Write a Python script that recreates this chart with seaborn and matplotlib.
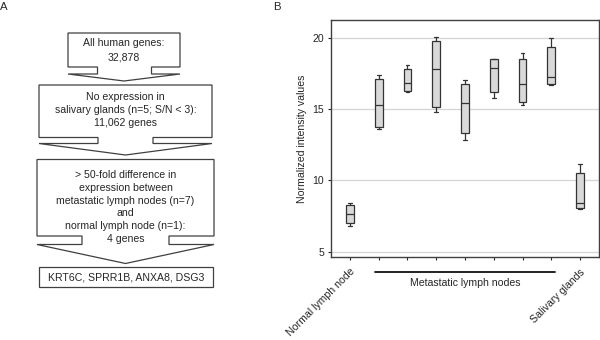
import numpy as np
import pandas as pd
import matplotlib
matplotlib.use("Agg")
import matplotlib.pyplot as plt
import seaborn as sns
from matplotlib.patches import Polygon, Rectangle
from matplotlib.transforms import ScaledTranslation, blended_transform_factory

# ---------------- data ----------------
groups = ["Normal lymph node", "Met 1", "Met 2", "Met 3", "Met 4",
          "Met 5", "Met 6", "Met 7", "Salivary glands"]
tick_labels = ["Normal lymph node", "", "", "", "", "", "", "", "Salivary glands"]
metastatic_label = "Metastatic lymph nodes"

# five-number summaries (min, q1, median, q3, max)
normal_node = [6.81, 7.00, 7.63, 8.29, 8.45]
met_1 = [13.59, 13.73, 15.26, 17.09, 17.37]
met_2 = [16.20, 16.29, 16.83, 17.82, 18.08]
met_3 = [14.77, 15.16, 17.79, 19.81, 20.05]
met_4 = [12.82, 13.33, 15.42, 16.76, 17.02]
met_5 = [15.80, 16.17, 17.86, 18.50, 18.52]
met_6 = [15.26, 15.52, 16.74, 18.52, 18.92]
met_7 = [16.70, 16.74, 17.23, 19.39, 20.00]
salivary = [8.03, 8.05, 8.45, 10.52, 11.17]
series = [normal_node, met_1, met_2, met_3, met_4, met_5, met_6, met_7, salivary]

y_ticks = [5, 10, 15, 20]
y_label = "Normalized intensity values"

flow_box1 = ["All human genes:", "32,878"]
flow_box2 = ["No expression in", "salivary glands (n=5; S/N < 3):", "11,062 genes"]
flow_box3 = ["> 50-fold difference in", "expression between",
             "metastatic lymph nodes (n=7)", "and",
             "normal lymph node (n=1):", "4 genes"]
flow_box4 = ["KRT6C, SPRR1B, ANXA8, DSG3"]

# ---------------- style ----------------
sns.set_style("white")
plt.rcParams["font.family"] = ["Liberation Sans", "DejaVu Sans"]
TXT = "#262626"
EDGE = "#404040"
FS = 7.6

fig = plt.figure(figsize=(6, 3.4), dpi=100)

# ---------------- panel A: flowchart ----------------
fax = fig.add_axes([0, 0, 1, 1])
fax.set_xlim(0, 600)
fax.set_ylim(340, 0)
fax.axis("off")


def callout(L, R, T, yb, sL, sR, ys, tip):
    cx = (L + R) / 2
    pts = [(L, T), (R, T), (R, yb), (sR, yb), (sR, ys), (R, ys), (cx, tip),
           (L, ys), (sL, ys), (sL, yb), (L, yb)]
    fax.add_patch(Polygon(pts, closed=True, facecolor="white",
                          edgecolor=EDGE, lw=0.9))


callout(68, 180, 33, 67, 97.5, 151.5, 74, 81)
callout(39, 212, 85, 137.5, 98, 153, 143.5, 155)
callout(37, 214, 159.5, 236, 82, 169, 244.5, 263.5)
fax.add_patch(Rectangle((38.5, 266.5), 174.5, 20.5, facecolor="white",
                        edgecolor=EDGE, lw=0.9))


def lines(texts, ys, cx=125):
    for t, y in zip(texts, ys):
        fax.text(cx, y, t, ha="center", va="center", fontsize=FS, color=TXT)


lines(flow_box1, [43.5, 57.5], cx=124)
lines(flow_box2, [97, 110, 123], cx=125.5)
lines(flow_box3, [175, 187.7, 200.5, 213.3, 226, 238.7], cx=125.5)
lines(flow_box4, [277.3], cx=125.7)

fax.text(4, 7, "A", ha="center", va="center", fontsize=8.2, color=TXT)
fax.text(277, 7, "B", ha="center", va="center", fontsize=8.2, color=TXT)

# ---------------- panel B: box plot ----------------
rows = []
for g, vals in zip(groups, series):
    for v in vals:
        rows.append({"group": g, "value": v})
df = pd.DataFrame(rows)

ax = fig.add_axes([331 / 600, 83 / 340, 268 / 600, 237 / 340])
ax.set_axisbelow(True)
ax.yaxis.grid(True, color="#d4d4d4", lw=0.9)
ax.xaxis.grid(False)

sns.boxplot(data=df, x="group", y="value", order=groups, width=0.27,
            whis=(0, 100), color="#d9d9d9", saturation=1,
            linecolor="#333333", linewidth=0.9, fliersize=0, ax=ax)

ax.set_xlim(-0.66, len(groups) - 1 + 0.66)
ax.set_ylim(4.63, 21.25)
ax.set_yticks(y_ticks)
ax.set_yticklabels([str(t) for t in y_ticks])
ax.set_xticks(range(len(groups)))
ax.set_xticklabels(tick_labels, rotation=45, ha="right", va="top",
                   rotation_mode="anchor")
for lab in ax.get_xticklabels():
    lab.set_transform(lab.get_transform() +
                      ScaledTranslation(3 / 100, 0, fig.dpi_scale_trans))
ax.set_xlabel("")
ax.set_ylabel(y_label, fontsize=FS, color=TXT, labelpad=4)

ax.tick_params(axis="both", which="both", labelsize=FS, colors=TXT,
               length=2.5, width=0.8, direction="out")
ax.tick_params(axis="x", pad=4.5, bottom=True)
ax.tick_params(axis="y", pad=2.5, left=True)
for s in ax.spines.values():
    s.set_visible(True)
    s.set_color(EDGE)
    s.set_linewidth(1.0)

# bracket under the metastatic groups
met_idx = [i for i, g in enumerate(groups) if g.startswith("Met")]
trans = blended_transform_factory(ax.transData, ax.transAxes)
ax.plot([met_idx[0] - 0.13, met_idx[-1] + 0.13], [-0.063, -0.063],
        transform=trans, clip_on=False, color="#111111", lw=1.3)
ax.text((met_idx[0] + met_idx[-1]) / 2, -0.11, metastatic_label,
        transform=trans, ha="center", va="center", fontsize=FS, color=TXT)

fig.savefig("out.png", dpi=100)
